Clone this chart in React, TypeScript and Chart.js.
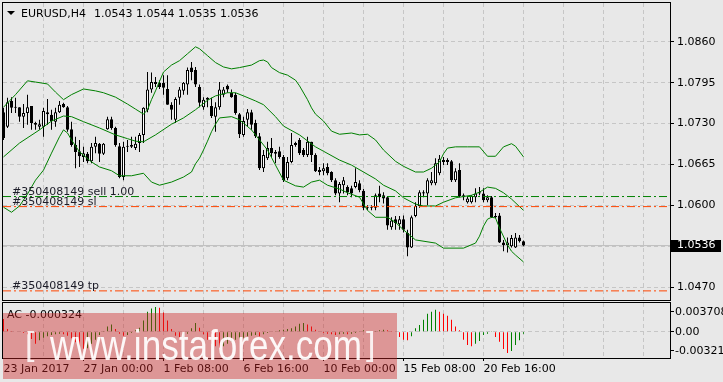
import React, { useEffect, useRef } from 'react';
import { Chart, registerables } from 'chart.js';

Chart.register(...registerables);

// ---------------- data ----------------
const candleOpen = [
  1.0748, 1.0725, 1.0766, 1.0756, 1.0756, 1.0741, 1.0747, 1.0758, 1.0731, 1.0725,
  1.0725, 1.0748, 1.0744, 1.0733, 1.0748, 1.0761, 1.0756, 1.0721, 1.0696, 1.0686,
  1.0677, 1.0682, 1.0670, 1.0693, 1.0698, 1.0682, 1.0721, 1.0737, 1.0723, 1.0694,
  1.0645, 1.0694, 1.0693, 1.0691, 1.0699, 1.0712, 1.0752, 1.0784, 1.0796, 1.0795,
  1.0795, 1.0785, 1.0760, 1.0736, 1.0771, 1.0782, 1.0792, 1.0819, 1.0815, 1.0788,
  1.0756, 1.0771, 1.0758, 1.0741, 1.0756, 1.0776, 1.0790, 1.0779, 1.0776, 1.0745,
  1.0712, 1.0736, 1.0748, 1.0731, 1.0710, 1.0659, 1.0675, 1.0691, 1.0682, 1.0686,
  1.0677, 1.0643, 1.0669, 1.0696, 1.0704, 1.0688, 1.0680, 1.0701, 1.0680, 1.0656,
  1.0654, 1.0661, 1.0653, 1.0640, 1.0619, 1.0632, 1.0629, 1.0627, 1.0629, 1.0635,
  1.0623, 1.0597, 1.0596, 1.0596, 1.0619, 1.0616, 1.0613, 1.0565, 1.0578, 1.0570,
  1.0578, 1.0556, 1.0533, 1.0583, 1.0599, 1.0621, 1.0619, 1.0635, 1.0635, 1.0651,
  1.0669, 1.0672, 1.0670, 1.0640, 1.0656, 1.0616, 1.0605, 1.0605, 1.0613, 1.0621,
  1.0619, 1.0608, 1.0613, 1.0583, 1.0584, 1.0541, 1.0537, 1.0535, 1.0533, 1.0549,
  1.0543,
];
const candleHigh = [
  1.0755, 1.0771, 1.0772, 1.0771, 1.0756, 1.0761, 1.0776, 1.0758, 1.0733, 1.0736,
  1.0755, 1.0769, 1.0752, 1.0755, 1.0766, 1.0763, 1.0758, 1.0733, 1.0709, 1.0704,
  1.0693, 1.0685, 1.0699, 1.0709, 1.0699, 1.0699, 1.0741, 1.0741, 1.0725, 1.0699,
  1.0701, 1.0704, 1.0709, 1.0709, 1.0715, 1.0756, 1.0812, 1.0811, 1.0804, 1.0799,
  1.0807, 1.0807, 1.0764, 1.0772, 1.0788, 1.0796, 1.0819, 1.0828, 1.0820, 1.0792,
  1.0772, 1.0772, 1.0771, 1.0764, 1.0796, 1.0788, 1.0792, 1.0784, 1.0779, 1.0747,
  1.0741, 1.0753, 1.0752, 1.0736, 1.0715, 1.0688, 1.0701, 1.0707, 1.0688, 1.0693,
  1.0680, 1.0677, 1.0715, 1.0701, 1.0707, 1.0691, 1.0709, 1.0701, 1.0683, 1.0661,
  1.0667, 1.0667, 1.0654, 1.0643, 1.0637, 1.0645, 1.0632, 1.0631, 1.0659, 1.0640,
  1.0626, 1.0600, 1.0600, 1.0619, 1.0631, 1.0621, 1.0615, 1.0581, 1.0583, 1.0583,
  1.0584, 1.0561, 1.0584, 1.0605, 1.0624, 1.0624, 1.0643, 1.0653, 1.0675, 1.0680,
  1.0677, 1.0675, 1.0672, 1.0659, 1.0667, 1.0619, 1.0615, 1.0616, 1.0627, 1.0629,
  1.0627, 1.0616, 1.0615, 1.0588, 1.0588, 1.0545, 1.0549, 1.0553, 1.0556, 1.0553,
  1.0544,
];
const candleLow = [
  1.0704, 1.0723, 1.0747, 1.0747, 1.0733, 1.0723, 1.0728, 1.0720, 1.0720, 1.0720,
  1.0709, 1.0728, 1.0720, 1.0725, 1.0747, 1.0755, 1.0717, 1.0693, 1.0659, 1.0661,
  1.0669, 1.0667, 1.0667, 1.0683, 1.0669, 1.0680, 1.0720, 1.0720, 1.0693, 1.0643,
  1.0640, 1.0685, 1.0691, 1.0688, 1.0685, 1.0699, 1.0748, 1.0779, 1.0788, 1.0785,
  1.0776, 1.0760, 1.0736, 1.0731, 1.0760, 1.0776, 1.0776, 1.0799, 1.0788, 1.0756,
  1.0752, 1.0756, 1.0739, 1.0717, 1.0752, 1.0772, 1.0779, 1.0771, 1.0744, 1.0707,
  1.0709, 1.0725, 1.0720, 1.0707, 1.0656, 1.0653, 1.0672, 1.0677, 1.0667, 1.0674,
  1.0637, 1.0640, 1.0667, 1.0693, 1.0680, 1.0677, 1.0677, 1.0669, 1.0653, 1.0648,
  1.0648, 1.0648, 1.0637, 1.0616, 1.0605, 1.0619, 1.0616, 1.0613, 1.0627, 1.0621,
  1.0592, 1.0592, 1.0592, 1.0592, 1.0605, 1.0603, 1.0561, 1.0561, 1.0561, 1.0561,
  1.0557, 1.0519, 1.0532, 1.0581, 1.0596, 1.0613, 1.0600, 1.0632, 1.0632, 1.0648,
  1.0664, 1.0664, 1.0637, 1.0637, 1.0613, 1.0608, 1.0603, 1.0603, 1.0605, 1.0616,
  1.0605, 1.0605, 1.0580, 1.0580, 1.0540, 1.0527, 1.0525, 1.0533, 1.0532, 1.0541,
  1.0535,
];
const candleClose = [
  1.0707, 1.0764, 1.0755, 1.0755, 1.0741, 1.0747, 1.0756, 1.0731, 1.0728, 1.0729,
  1.0750, 1.0745, 1.0734, 1.0748, 1.0760, 1.0756, 1.0720, 1.0696, 1.0685, 1.0678,
  1.0683, 1.0670, 1.0693, 1.0699, 1.0682, 1.0698, 1.0737, 1.0723, 1.0696, 1.0645,
  1.0693, 1.0693, 1.0696, 1.0698, 1.0712, 1.0755, 1.0784, 1.0796, 1.0793, 1.0788,
  1.0787, 1.0760, 1.0752, 1.0769, 1.0784, 1.0795, 1.0815, 1.0812, 1.0792, 1.0763,
  1.0768, 1.0768, 1.0742, 1.0756, 1.0784, 1.0784, 1.0784, 1.0772, 1.0747, 1.0713,
  1.0734, 1.0748, 1.0728, 1.0710, 1.0659, 1.0680, 1.0691, 1.0683, 1.0685, 1.0677,
  1.0640, 1.0669, 1.0696, 1.0699, 1.0683, 1.0680, 1.0701, 1.0680, 1.0654, 1.0653,
  1.0659, 1.0651, 1.0640, 1.0619, 1.0634, 1.0640, 1.0621, 1.0619, 1.0637, 1.0624,
  1.0596, 1.0596, 1.0597, 1.0616, 1.0613, 1.0611, 1.0568, 1.0576, 1.0572, 1.0578,
  1.0561, 1.0533, 1.0581, 1.0599, 1.0621, 1.0619, 1.0640, 1.0640, 1.0667, 1.0674,
  1.0672, 1.0669, 1.0640, 1.0654, 1.0615, 1.0613, 1.0611, 1.0615, 1.0619, 1.0619,
  1.0608, 1.0613, 1.0581, 1.0581, 1.0541, 1.0537, 1.0541, 1.0548, 1.0549, 1.0543,
  1.0536,
];

// Bollinger bands, read at bar indices
const bbUpperIdx = [0, 3, 6, 8, 11, 13, 15, 17, 20, 23, 25, 28, 31, 33, 35, 36, 37, 38, 40, 42, 44, 46, 48, 49, 51, 53, 55, 57, 59, 62, 64, 65, 66, 67, 69, 71, 73, 74, 76, 77, 78, 80, 82, 84, 87, 89, 91, 93, 95, 98, 100, 103, 105, 107, 109, 110, 111, 113, 116, 119, 121, 123, 125, 127, 128, 130];
const bbUpper = [1.0756, 1.0776, 1.0798, 1.0796, 1.0793, 1.0780, 1.0768, 1.0776, 1.0785, 1.0782, 1.0779, 1.0772, 1.0761, 1.0753, 1.0745, 1.0752, 1.0768, 1.0782, 1.0812, 1.0823, 1.0830, 1.0841, 1.0852, 1.0849, 1.0838, 1.0827, 1.0820, 1.0817, 1.0819, 1.0823, 1.0830, 1.0831, 1.0828, 1.0819, 1.0811, 1.0807, 1.0799, 1.0790, 1.0768, 1.0755, 1.0745, 1.0734, 1.0718, 1.0713, 1.0715, 1.0712, 1.0713, 1.0704, 1.0688, 1.0670, 1.0662, 1.0653, 1.0653, 1.0659, 1.0669, 1.0682, 1.0691, 1.0693, 1.0693, 1.0693, 1.0678, 1.0678, 1.0693, 1.0698, 1.0694, 1.0677];
const bbMiddleIdx = [0, 4, 9, 12, 15, 17, 20, 24, 28, 31, 33, 35, 38, 42, 45, 48, 51, 53, 56, 58, 60, 63, 65, 68, 70, 74, 78, 80, 84, 87, 90, 93, 95, 98, 100, 103, 105, 108, 110, 113, 117, 119, 121, 123, 125, 127, 130];
const bbMiddle = [1.0677, 1.0699, 1.0720, 1.0734, 1.0742, 1.0741, 1.0733, 1.0723, 1.0712, 1.0706, 1.0702, 1.0701, 1.0712, 1.0729, 1.0739, 1.0752, 1.0767, 1.0774, 1.0779, 1.0779, 1.0774, 1.0766, 1.0760, 1.0741, 1.0726, 1.0712, 1.0693, 1.0686, 1.0672, 1.0664, 1.0653, 1.0642, 1.0632, 1.0623, 1.0612, 1.0602, 1.0599, 1.0599, 1.0605, 1.0612, 1.0616, 1.0621, 1.0629, 1.0627, 1.0620, 1.0610, 1.0592];
const bbLowerIdx = [0, 2, 4, 6, 8, 10, 12, 14, 15, 16, 17, 19, 22, 24, 27, 29, 32, 35, 37, 39, 42, 45, 47, 48, 49, 50, 51, 52, 53, 54, 57, 59, 62, 64, 66, 68, 70, 73, 75, 77, 79, 81, 84, 86, 89, 91, 93, 96, 98, 100, 103, 108, 110, 115, 118, 119, 120, 121, 122, 123, 124, 126, 127, 128, 130];
const bbLower = [1.0597, 1.0589, 1.0599, 1.0618, 1.0640, 1.0656, 1.0683, 1.0709, 1.0720, 1.0715, 1.0704, 1.0685, 1.0669, 1.0661, 1.0655, 1.0647, 1.0647, 1.0651, 1.0637, 1.0632, 1.0637, 1.0645, 1.0653, 1.0666, 1.0675, 1.0688, 1.0702, 1.0717, 1.0729, 1.0739, 1.0741, 1.0736, 1.0720, 1.0704, 1.0688, 1.0664, 1.0640, 1.0631, 1.0629, 1.0637, 1.0640, 1.0632, 1.0626, 1.0620, 1.0613, 1.0592, 1.0581, 1.0581, 1.0573, 1.0561, 1.0545, 1.0540, 1.0532, 1.0532, 1.0540, 1.0551, 1.0567, 1.0578, 1.0581, 1.0580, 1.0564, 1.0537, 1.0527, 1.0521, 1.0510];

// Accelerator oscillator
const acValues = [
  0.0019, 0.0004, 0.0001, 0.00005, -0.0001, -0.0002, -0.0004, -0.0011, -0.0018, -0.0013,
  -0.0009, -0.0007, -0.0005, -0.0004, -0.0003, -0.0004, -0.0006, -0.0010, -0.0016, -0.0022,
  -0.0026, -0.0025, -0.0018, -0.0012, -0.0005, 0.0001, 0.0008, 0.0011, 0.0004, -0.0003,
  -0.0006, -0.0005, -0.0002, 0.0002, 0.0006, 0.0017, 0.0030, 0.0035, 0.003708, 0.0036,
  0.0029, 0.0017, 0.0004, -0.0006, -0.0010, -0.0009, -0.0003, 0.0005, 0.0013, 0.0006,
  -0.0004, -0.0012, -0.0018, -0.0022, -0.0024, -0.0022, -0.0018, -0.0015, -0.0012, -0.0010,
  -0.0009, -0.0007, -0.0006, -0.0005, -0.0007, -0.0004, -0.0002, -0.0001, 0.0001, 0.0002,
  0.0003, 0.0004, 0.0005, 0.0008, 0.0012, 0.0013, 0.0011, 0.0008, 0.0003, -0.0001,
  -0.0002, -0.0003, -0.0004, -0.0005, -0.0004, -0.0003, -0.0004, -0.0003, -0.0002, 0.0001,
  0.0002, 0.0001, 0.00005, 0.0001, 0.0002, 0.0003, 0.0002, 0.0001, -0.0001, -0.0008,
  -0.0012, -0.0013, -0.0007, 0.0005, 0.0010, 0.0018, 0.0027, 0.0030, 0.0033, 0.0030,
  0.0027, 0.0024, 0.0018, 0.0008, 0.0002, -0.0012, -0.0020, -0.0022, -0.0018, -0.0014,
  -0.0005, -0.0003, 0.0001, -0.0008, -0.0015, -0.0026, -0.003216, -0.0029, -0.0020, -0.0013,
  -0.000324,
];

const bidPrice = 1.0536;
const sellPrice = 1.0614;
const slPrice = 1.0598;
const tpPrice = 1.0464;
const orderId = '#350408149';
const symbolTitle = 'EURUSD,H4';

const priceTicks = [1.0860, 1.0795, 1.0730, 1.0665, 1.0600, 1.0535, 1.0470];
const priceTickLabels = ['1.0860', '1.0795', '1.0730', '1.0665', '1.0600', '', '1.0470'];
const gridIdx = [0, 10, 20, 30, 40, 50, 60, 70, 80, 90, 100, 110, 120, 130, 140, 150, 160];
const timeTickIdx = [0, 20, 40, 60, 80, 100, 120];
const timeTickLabels = ['23 Jan 2017', '27 Jan 00:00', '1 Feb 08:00', '6 Feb 16:00', '10 Feb 00:00', '15 Feb 08:00', '20 Feb 16:00'];
const acTickPos = [0.003008, 0, -0.002857];
const acTickLabels = ['0.003708', '0.00', '-0.00321'];
const watermarkText = 'www.instaforex.com';

// ---------------- layout / style ----------------
const W = 723;
const H = 382;
const MAIN_H = 301;
const SUB_H = 81;
const X_MIN = -0.125;
const X_MAX = 166.625;
const Y_MIN = 1.044951;
const Y_MAX = 1.0921685;
const AC_MIN = -0.0039549;
const AC_MAX = 0.0043158;

const BG = '#e8e8e8';
const GRID = '#c6c6c6';
const BAND = '#008000';
const TRADE_GREEN = '#008000';
const STOP_RED = '#ff4500';
const BID_COLOR = '#bdbdbd';
const AC_UP = '#008000';
const AC_DOWN = '#ff0000';
const FONT = '"DejaVu Sans", Verdana, sans-serif';
const CLEAR = 'rgba(0,0,0,0)';

const bgPlugin = {
  id: 'bg',
  beforeDraw(chart: any) {
    const ctx = chart.ctx;
    ctx.save();
    ctx.fillStyle = BG;
    ctx.fillRect(0, 0, chart.width, chart.height);
    ctx.restore();
  },
};

const mainOverlay = {
  id: 'mainOverlay',
  afterDraw(chart: any) {
    const ctx = chart.ctx;
    const y = chart.scales.y;
    const a = chart.chartArea;
    ctx.save();
    ctx.strokeStyle = '#000';
    ctx.lineWidth = 1;
    ctx.strokeRect(a.left - 0.5, a.top - 0.5, a.right - a.left + 1, a.bottom - a.top + 1);

    // title
    ctx.fillStyle = '#000';
    ctx.beginPath();
    ctx.moveTo(7, 11);
    ctx.lineTo(15, 11);
    ctx.lineTo(11, 15);
    ctx.closePath();
    ctx.fill();
    ctx.font = '11px ' + FONT;
    ctx.textAlign = 'left';
    ctx.textBaseline = 'alphabetic';
    const last = candleOpen.length - 1;
    const ohlc = [candleOpen[last], candleHigh[last], candleLow[last], candleClose[last]].map((v) => v.toFixed(4)).join(' ');
    ctx.fillText(symbolTitle, 21, 17);
    ctx.fillText(ohlc, 94, 17);

    // order labels
    ctx.fillStyle = '#1c1c28';
    const labels: [string, number][] = [
      [orderId + ' sell 1.00', sellPrice],
      [orderId + ' sl', slPrice],
      [orderId + ' tp', tpPrice],
    ];
    labels.forEach(([t, p]) => ctx.fillText(t, 12, y.getPixelForValue(p) - 2));

    // bid box
    const py = y.getPixelForValue(bidPrice);
    ctx.fillStyle = '#000';
    ctx.fillRect(671, Math.round(py) - 6, 50, 12);
    ctx.fillRect(670, Math.round(py), 4, 1);
    ctx.fillStyle = '#fff';
    ctx.textBaseline = 'middle';
    ctx.fillText(bidPrice.toFixed(4), 677, py);
    ctx.restore();
  },
};

const subOverlay = {
  id: 'subOverlay',
  afterDraw(chart: any) {
    const ctx = chart.ctx;
    const a = chart.chartArea;
    ctx.save();
    ctx.strokeStyle = '#000';
    ctx.lineWidth = 1;
    ctx.strokeRect(a.left - 0.5, a.top - 0.5, a.right - a.left + 1, a.bottom - a.top + 1);

    ctx.fillStyle = '#000';
    ctx.font = '11px ' + FONT;
    ctx.textAlign = 'left';
    ctx.textBaseline = 'alphabetic';
    ctx.fillText('AC ' + acValues[acValues.length - 1].toFixed(6), 7, 17);

    // watermark
    ctx.fillStyle = 'rgba(205,35,35,0.42)';
    ctx.fillRect(3, 12, 394, 66);
    ctx.fillStyle = 'rgba(255,255,255,0.93)';
    ctx.font = '43px "Liberation Sans", Arial, sans-serif';
    const tw = ctx.measureText(watermarkText).width;
    ctx.save();
    ctx.translate(50, 59);
    ctx.scale(312 / tw, 1);
    ctx.fillText(watermarkText, 0, 0);
    ctx.restore();
    ctx.fillStyle = 'rgba(255,255,255,0.85)';
    ctx.font = '34px "Liberation Sans", Arial, sans-serif';
    ctx.fillText('[', 25, 54);
    ctx.fillText(']', 366, 54);
    ctx.restore();
  },
};

function mainConfig(): any {
  const idx = candleOpen.map((_, i) => i);
  const hLine = (v: number) => [{ x: X_MIN, y: v }, { x: X_MAX, y: v }];
  const pts = (xs: number[], ys: number[]) => xs.map((x, k) => ({ x, y: ys[k] }));
  const lineBase = { type: 'line', pointRadius: 0, borderWidth: 1, fill: false, tension: 0 };
  const dash = [8, 3, 2, 3];
  return {
    type: 'bar',
    data: {
      datasets: [
        { ...lineBase, data: hLine(bidPrice), borderColor: BID_COLOR, order: 20 },
        { ...lineBase, data: hLine(sellPrice), borderColor: TRADE_GREEN, borderDash: dash, order: 2 },
        { ...lineBase, data: hLine(slPrice), borderColor: STOP_RED, borderDash: dash, order: 2 },
        { ...lineBase, data: hLine(tpPrice), borderColor: STOP_RED, borderDash: dash, order: 2 },
        { ...lineBase, data: pts(bbUpperIdx, bbUpper), borderColor: BAND, order: 3 },
        { ...lineBase, data: pts(bbMiddleIdx, bbMiddle), borderColor: BAND, order: 3 },
        { ...lineBase, data: pts(bbLowerIdx, bbLower), borderColor: BAND, order: 3 },
        {
          type: 'bar',
          data: idx.map((i) => ({ x: i, y: [candleLow[i], candleHigh[i]] })),
          backgroundColor: '#000',
          borderWidth: 0,
          barThickness: 1,
          grouped: false,
          inflateAmount: 0,
          order: 6,
        },
        {
          type: 'bar',
          data: idx.map((i) => ({ x: i, y: [candleOpen[i], candleClose[i]] })),
          backgroundColor: (c: any) => (candleClose[c.dataIndex] >= candleOpen[c.dataIndex] ? '#ffffff' : '#000000'),
          borderColor: '#000',
          borderWidth: 1,
          borderSkipped: false,
          barThickness: 3,
          minBarLength: 1,
          grouped: false,
          inflateAmount: 0,
          order: 5,
        },
      ],
    },
    options: {
      animation: false,
      responsive: false,
      devicePixelRatio: 1,
      events: [],
      layout: { autoPadding: false, padding: { left: 3, top: 3, right: 0, bottom: 1 } },
      plugins: { legend: { display: false }, tooltip: { enabled: false } },
      scales: {
        x: {
          type: 'linear',
          min: X_MIN,
          max: X_MAX,
          offset: false,
          afterBuildTicks: (s: any) => { s.ticks = gridIdx.map((v) => ({ value: v })); },
          afterFit: (s: any) => { s.height = 0; s.paddingLeft = 0; s.paddingRight = 0; },
          ticks: { display: false, autoSkip: false },
          grid: { offset: false, drawTicks: false, color: (c: any) => (c.tick && c.tick.value > 0 ? GRID : CLEAR) },
          border: { display: false, dash: [4, 3] },
        },
        y: {
          type: 'linear',
          position: 'right',
          min: Y_MIN,
          max: Y_MAX,
          beginAtZero: false,
          afterBuildTicks: (s: any) => { s.ticks = priceTicks.map((v) => ({ value: v })); },
          afterFit: (s: any) => { s.width = 53; s.paddingTop = 0; s.paddingBottom = 0; },
          ticks: {
            autoSkip: false,
            padding: 3,
            color: '#000',
            font: { family: FONT, size: 11 },
            callback: (_v: any, i: number) => priceTickLabels[i],
          },
          grid: { color: GRID, tickColor: '#000', tickLength: 4, drawTicks: true },
          border: { display: false, dash: [4, 3] },
        },
      },
    },
    plugins: [bgPlugin, mainOverlay],
  };
}

function subConfig(): any {
  return {
    type: 'bar',
    data: {
      datasets: [
        {
          data: acValues.map((v, i) => ({ x: i, y: v })),
          backgroundColor: (c: any) => {
            const i = c.dataIndex;
            return i > 0 && acValues[i] > acValues[i - 1] ? AC_UP : AC_DOWN;
          },
          borderWidth: 0,
          barThickness: 1,
          grouped: false,
          inflateAmount: 0,
        },
      ],
    },
    options: {
      animation: false,
      responsive: false,
      devicePixelRatio: 1,
      events: [],
      layout: { autoPadding: false, padding: { left: 3, top: 2, right: 0, bottom: 0 } },
      plugins: { legend: { display: false }, tooltip: { enabled: false } },
      scales: {
        x: {
          type: 'linear',
          min: X_MIN,
          max: X_MAX,
          offset: false,
          afterBuildTicks: (s: any) => { s.ticks = gridIdx.map((v) => ({ value: v })); },
          afterFit: (s: any) => { s.height = 24; s.paddingLeft = 0; s.paddingRight = 0; },
          ticks: {
            autoSkip: false,
            maxRotation: 0,
            minRotation: 0,
            align: 'start',
            padding: 2,
            color: '#000',
            font: { family: FONT, size: 11 },
            callback: (v: any) => {
              const k = timeTickIdx.indexOf(v);
              return k >= 0 ? timeTickLabels[k] : '';
            },
          },
          grid: {
            offset: false,
            drawTicks: true,
            tickLength: 3,
            color: (c: any) => (c.tick && c.tick.value > 0 ? GRID : CLEAR),
            tickColor: (c: any) => (c.tick && timeTickIdx.indexOf(c.tick.value) > 0 ? '#000' : CLEAR),
          },
          border: { display: false, dash: [4, 3] },
        },
        y: {
          type: 'linear',
          position: 'right',
          min: AC_MIN,
          max: AC_MAX,
          beginAtZero: false,
          afterBuildTicks: (s: any) => { s.ticks = acTickPos.map((v) => ({ value: v })); },
          afterFit: (s: any) => { s.width = 53; s.paddingTop = 0; s.paddingBottom = 0; },
          ticks: {
            autoSkip: false,
            padding: 1,
            color: '#000',
            font: { family: FONT, size: 11 },
            callback: (_v: any, i: number) => acTickLabels[i],
          },
          grid: {
            color: (c: any) => (c.tick && c.tick.value === 0 ? GRID : CLEAR),
            tickColor: '#000',
            tickLength: 4,
          },
          border: { display: false, dash: [4, 3] },
        },
      },
    },
    plugins: [bgPlugin, subOverlay],
  };
}

export default function App() {
  const mainRef = useRef<HTMLCanvasElement | null>(null);
  const subRef = useRef<HTMLCanvasElement | null>(null);

  useEffect(() => {
    const c1 = new Chart(mainRef.current as HTMLCanvasElement, mainConfig());
    const c2 = new Chart(subRef.current as HTMLCanvasElement, subConfig());
    return () => {
      c1.destroy();
      c2.destroy();
    };
  }, []);

  return (
    <div style={{ position: 'fixed', left: 0, top: 0, width: W, height: H, background: BG, overflow: 'hidden' }}>
      <canvas ref={mainRef} width={W} height={MAIN_H} style={{ position: 'absolute', left: 0, top: 0, width: W, height: MAIN_H }} />
      <canvas ref={subRef} width={W} height={SUB_H} style={{ position: 'absolute', left: 0, top: MAIN_H, width: W, height: SUB_H }} />
    </div>
  );
}
